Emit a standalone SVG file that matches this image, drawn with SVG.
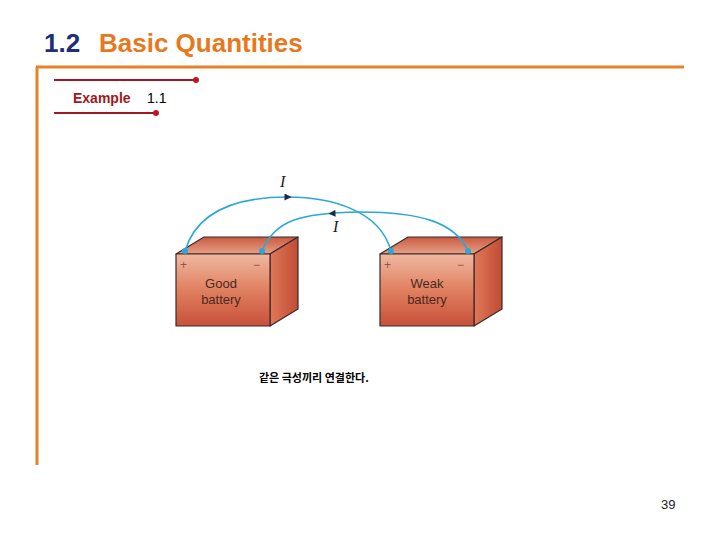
<svg xmlns="http://www.w3.org/2000/svg" width="720" height="540" viewBox="0 0 720 540">
<defs>
<linearGradient id="front" x1="0" y1="0" x2="0" y2="1"><stop offset="0" stop-color="#f0b8a0"/><stop offset="0.5" stop-color="#e08060"/><stop offset="1" stop-color="#c8503a"/></linearGradient>
<linearGradient id="top" x1="0" y1="0" x2="0" y2="1"><stop offset="0" stop-color="#c85a40"/><stop offset="1" stop-color="#e8a088"/></linearGradient>
<linearGradient id="side" x1="0" y1="0" x2="1" y2="0"><stop offset="0" stop-color="#e07858"/><stop offset="1" stop-color="#c04c34"/></linearGradient>
<marker id="ah" viewBox="0 0 10 10" refX="5" refY="5" markerWidth="11" markerHeight="7" orient="auto" markerUnits="userSpaceOnUse"><path d="M0,0 L10,5 L0,10 z" fill="#1a2a4a"/></marker>
</defs>
<style>
.bat path{stroke:#3a2a2a;stroke-width:1.2;stroke-linejoin:round}
.lbl{font-family:"Liberation Sans",Arial,sans-serif;font-size:13px;fill:#4a2a20;text-anchor:middle}
.pm{font-family:"Liberation Sans",Arial,sans-serif;font-size:12px;fill:#8a5a50}
.wire{fill:none;stroke:#2aa8d8;stroke-width:1.6}
.I{font-family:"Liberation Serif","Times New Roman",serif;font-style:italic;font-size:16px;fill:#222}
.dot{fill:#2aa8d8}
</style>
<rect width="720" height="540" fill="#fff"/>
<text x="44" y="52" font-family="Liberation Sans,Arial,sans-serif" font-size="26" font-weight="bold" fill="#1e2f7a">1.2<tspan x="99" fill="#e8781e">Basic Quantities</tspan></text>
<path d="M36,67 H684 M37,67 V465" stroke="#e8822a" stroke-width="3" fill="none"/>
<g id="example">
<path d="M54,80 H196 M54,113 H156" stroke="#a01820" stroke-width="2"/>
<circle cx="196" cy="80" r="3" fill="#c01820"/><circle cx="156" cy="113" r="3" fill="#c01820"/>
<text x="73" y="103" font-family="Liberation Sans,Arial,sans-serif" font-size="14" font-weight="bold" fill="#a01820">Example<tspan x="147" fill="#000" font-weight="normal">1.1</tspan></text>
</g>
<g id="good" class="bat">
<path d="M176,254 L204,237 L298,237 L270,254 Z" fill="url(#top)"/>
<path d="M270,254 L298,237 L298,309 L270,326 Z" fill="url(#side)"/>
<path d="M176,254 H270 V326 H176 Z" fill="url(#front)"/>
<text class="pm" x="180" y="269">+</text><text class="pm" x="253" y="269">−</text>
<text class="lbl" x="221" y="288">Good</text><text class="lbl" x="221" y="304">battery</text>
</g>
<g id="weak" class="bat">
<path d="M380,254 L408,237 L502,237 L474,254 Z" fill="url(#top)"/>
<path d="M474,254 L502,237 L502,309 L474,326 Z" fill="url(#side)"/>
<path d="M380,254 H474 V326 H380 Z" fill="url(#front)"/>
<text class="pm" x="384" y="269">+</text><text class="pm" x="457" y="269">−</text>
<text class="lbl" x="427" y="288">Weak</text><text class="lbl" x="427" y="304">battery</text>
</g>
<g id="connectors">
<path class="wire" d="M185,251 C200,200 260,197 288,197 C330,197 380,210 391,251"/>
<path class="wire" d="M262,251 C275,220 300,213 360,212 C420,212 455,222 468,251"/>
<path d="M278,197 L288,197" marker-end="url(#ah)" stroke="none"/>
<path d="M342,213 L332,213.5" marker-end="url(#ah)" stroke="none"/>
<circle class="dot" cx="185" cy="251" r="3"/><circle class="dot" cx="262" cy="251" r="3"/>
<circle class="dot" cx="391" cy="251" r="3"/><circle class="dot" cx="468" cy="251" r="3"/>
<text class="I" x="280" y="187">I</text><text class="I" x="333" y="232">I</text>
</g>
<text x="259" y="382" font-family="Noto Sans CJK KR,sans-serif" font-size="11" font-weight="bold" fill="#000">같은 극성끼리 연결한다.</text>
<text x="661" y="509" font-family="Liberation Sans,Arial,sans-serif" font-size="13" fill="#222">39</text>
</svg>
